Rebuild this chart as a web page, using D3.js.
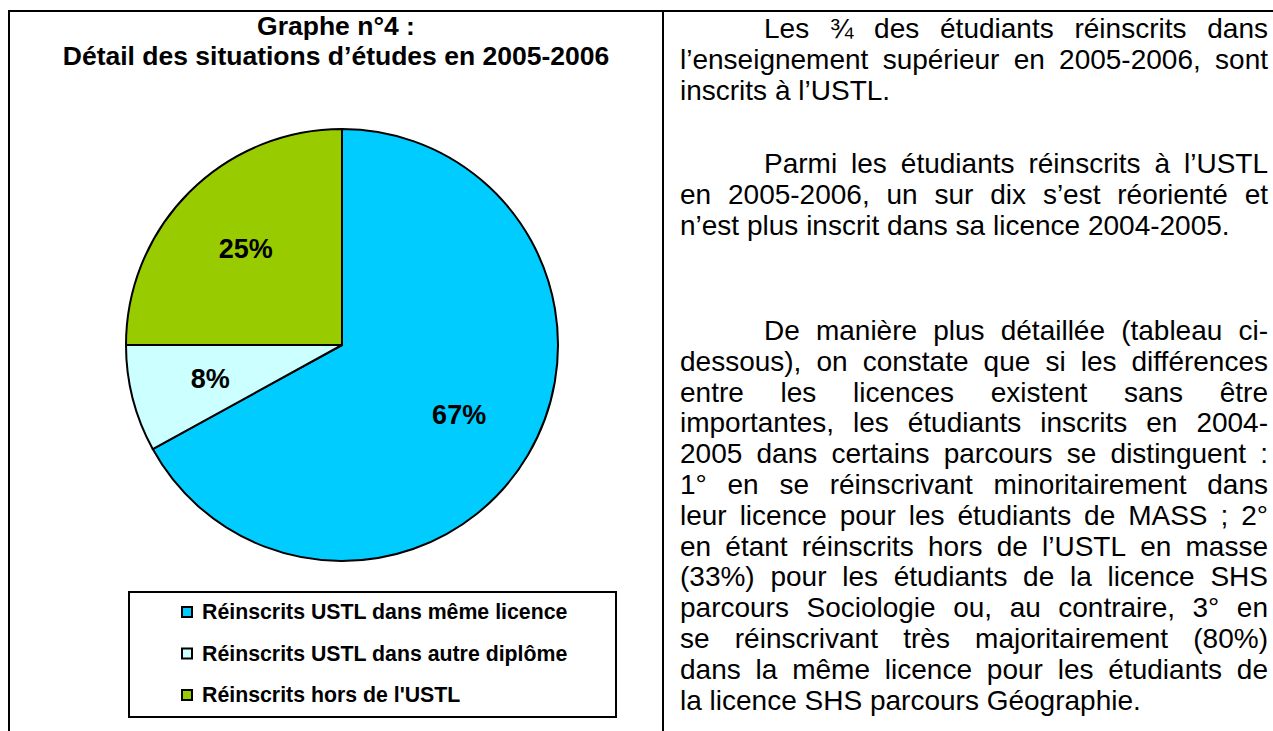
<!DOCTYPE html>
<html>
<head>
<meta charset="utf-8">
<script src="https://cdn.jsdelivr.net/npm/d3@7"></script>
<style>
  body { margin: 0; background: #fff; }
  svg { display: block; font-family: "Liberation Sans", Arial, sans-serif; }
</style>
</head>
<body>
<div id="chart"></div>
<script>
// pie data
var categories = ["Réinscrits USTL dans même licence", "Réinscrits USTL dans autre diplôme", "Réinscrits hors de l'USTL"];
var values = [67, 8, 25];
var labels = ["67%", "8%", "25%"];
var colors = ["#00ccff", "#ccffff", "#99cc00"];

var titleLines = ["Graphe n°4 :", "Détail des situations d’études en 2005-2006"];

// text of the right cell, one entry per line, paragraphs separated
var paragraphs = [
  { top: 38, lines: [
    "Les ¾ des étudiants réinscrits dans",
    "l’enseignement supérieur en 2005-2006, sont",
    "inscrits à l’USTL."] },
  { top: 173, lines: [
    "Parmi les étudiants réinscrits à l’USTL",
    "en 2005-2006, un sur dix s’est réorienté et",
    "n’est plus inscrit dans sa licence 2004-2005."] },
  { top: 340, lines: [
    "De manière plus détaillée (tableau ci-",
    "dessous), on constate que si les différences",
    "entre les licences existent sans être",
    "importantes, les étudiants inscrits en 2004-",
    "2005 dans certains parcours se distinguent :",
    "1° en se réinscrivant minoritairement dans",
    "leur licence pour les étudiants de MASS ; 2°",
    "en étant réinscrits hors de l’USTL en masse",
    "(33%) pour les étudiants de la licence SHS",
    "parcours Sociologie ou, au contraire, 3° en",
    "se réinscrivant très majoritairement (80%)",
    "dans la même licence pour les étudiants de",
    "la licence SHS parcours Géographie."] }
];

var W = 1273, H = 731;
var svg = d3.select("#chart").append("svg")
  .attr("width", W)
  .attr("height", H);

// table borders
svg.append("line").attr("x1", 8).attr("x2", W).attr("y1", 11).attr("y2", 11)
  .attr("stroke", "#000").attr("stroke-width", 2);
svg.append("line").attr("x1", 9).attr("x2", 9).attr("y1", 10).attr("y2", H)
  .attr("stroke", "#000").attr("stroke-width", 2);
svg.append("line").attr("x1", 663).attr("x2", 663).attr("y1", 10).attr("y2", H)
  .attr("stroke", "#000").attr("stroke-width", 2);

// title
svg.selectAll(".title")
  .data(titleLines)
  .enter().append("text")
  .attr("class", "title")
  .attr("x", 336)
  .attr("y", function (d, i) { return 35 + i * 30; })
  .attr("text-anchor", "middle")
  .attr("font-weight", "bold")
  .attr("font-size", 26.5)
  .text(function (d) { return d; });

// pie
var cx = 342, cy = 345, radius = 216;
var pie = d3.pie().sort(null).value(function (d) { return d; });
var arc = d3.arc().innerRadius(0).outerRadius(radius);
var labelArc = d3.arc().innerRadius(radius * 0.63).outerRadius(radius * 0.63);

var g = svg.append("g").attr("transform", "translate(" + cx + "," + cy + ")");
var slices = g.selectAll(".slice")
  .data(pie(values))
  .enter().append("g")
  .attr("class", "slice");

slices.append("path")
  .attr("d", arc)
  .attr("fill", function (d, i) { return colors[i]; })
  .attr("stroke", "#000")
  .attr("stroke-width", 2)
  .attr("stroke-linejoin", "round");

slices.append("text")
  .attr("transform", function (d) { return "translate(" + labelArc.centroid(d) + ")"; })
  .attr("dy", "0.35em")
  .attr("text-anchor", "middle")
  .attr("font-weight", "bold")
  .attr("font-size", 27)
  .text(function (d, i) { return labels[i]; });

// legend
var legend = svg.append("g");
legend.append("rect")
  .attr("x", 129).attr("y", 592)
  .attr("width", 487).attr("height", 125)
  .attr("fill", "#fff")
  .attr("stroke", "#000")
  .attr("stroke-width", 2);

var items = legend.selectAll(".legend")
  .data(categories)
  .enter().append("g")
  .attr("class", "legend")
  .attr("transform", function (d, i) { return "translate(182," + (612 + i * 41.5) + ")"; });

items.append("rect")
  .attr("x", 0).attr("y", -5)
  .attr("width", 10).attr("height", 10)
  .attr("fill", function (d, i) { return colors[i]; })
  .attr("stroke", "#000")
  .attr("stroke-width", 2);

items.append("text")
  .attr("x", 20)
  .attr("dy", "0.35em")
  .attr("font-weight", "bold")
  .attr("font-size", 21.3)
  .text(function (d) { return d; });

// right cell text, justified
var left = 680, right = 1268, indent = 84, lineH = 30.8;
var body = svg.append("g").attr("font-size", 28);

paragraphs.forEach(function (p) {
  p.lines.forEach(function (line, li) {
    var y = p.top + li * lineH;
    var x0 = li === 0 ? left + indent : left;
    var last = li === p.lines.length - 1;
    var words = line.split(" ");
    var nodes = words.map(function (w) {
      return body.append("text").attr("y", y).text(w);
    });
    var widths = nodes.map(function (n) { return n.node().getComputedTextLength(); });
    var space = 7.8;
    if (!last && words.length > 1) {
      space = (right - x0 - d3.sum(widths)) / (words.length - 1);
    }
    var x = x0;
    nodes.forEach(function (n, k) {
      n.attr("x", x);
      x += widths[k] + space;
    });
  });
});
</script>
</body>
</html>
